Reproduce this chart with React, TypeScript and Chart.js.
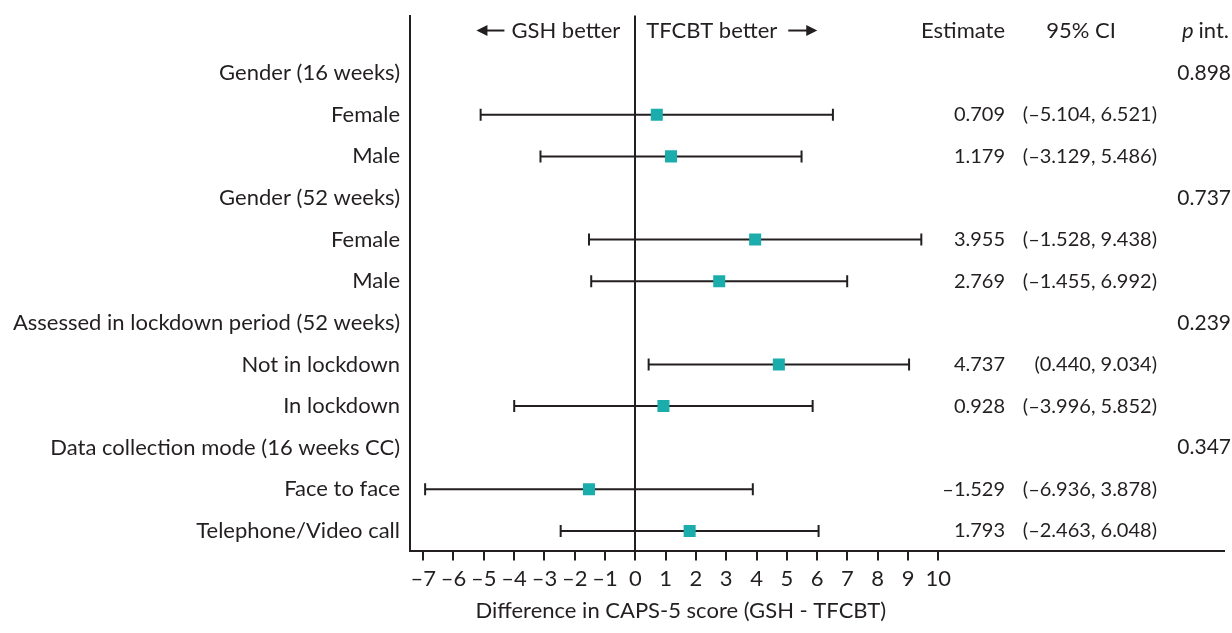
import React, { useEffect, useRef } from 'react';
import { Chart, registerables } from 'chart.js';

Chart.register(...registerables);

const rowLabels = [
  'Gender (16 weeks)',
  'Female',
  'Male',
  'Gender (52 weeks)',
  'Female',
  'Male',
  'Assessed in lockdown period (52 weeks)',
  'Not in lockdown',
  'In lockdown',
  'Data collection mode (16 weeks CC)',
  'Face to face',
  'Telephone/Video call',
];
const estimates: (number | null)[] = [null, 0.709, 1.179, null, 3.955, 2.769, null, 4.737, 0.928, null, -1.529, 1.793];
const lowerCI: (number | null)[] = [null, -5.104, -3.129, null, -1.528, -1.455, null, 0.44, -3.996, null, -6.936, -2.463];
const upperCI: (number | null)[] = [null, 6.521, 5.486, null, 9.438, 6.992, null, 9.034, 5.852, null, 3.878, 6.048];
const pInteraction: (string | null)[] = ['0.898', null, null, '0.737', null, null, '0.239', null, null, '0.347', null, null];
const xTicks = [-7, -6, -5, -4, -3, -2, -1, 0, 1, 2, 3, 4, 5, 6, 7, 8, 9, 10];
const xTitle = 'Difference in CAPS-5 score (GSH - TFCBT)';
const leftHeader = 'GSH better';
const rightHeader = 'TFCBT better';

const INK = '#231F20';
const TEAL = '#1BADAC';
const FONT = 'Lato, "Noto Sans", sans-serif';
const FS = 22;
const FS_NUM = 20;

const fmt = (v: number) => (v < 0 ? '\u2013' + Math.abs(v).toFixed(3) : v.toFixed(3));

function drawArrow(ctx: CanvasRenderingContext2D, x1: number, x2: number, y: number) {
  const dir = Math.sign(x2 - x1);
  const head = 11;
  ctx.beginPath();
  ctx.moveTo(x1, y);
  ctx.lineTo(x2 - dir * head + dir * 1, y);
  ctx.lineWidth = 2;
  ctx.strokeStyle = INK;
  ctx.stroke();
  ctx.beginPath();
  ctx.moveTo(x2, y);
  ctx.lineTo(x2 - dir * head, y - 5.5);
  ctx.lineTo(x2 - dir * head, y + 5.5);
  ctx.closePath();
  ctx.fillStyle = INK;
  ctx.fill();
}

const textPlugin = {
  id: 'forestText',
  afterDraw(chart: any) {
    const { ctx, scales } = chart;
    const xs = scales.x;
    const ys = scales.y;
    ctx.save();
    ctx.fillStyle = INK;
    ctx.font = `${FS}px ${FONT}`;
    ctx.textBaseline = 'middle';

    // header row
    const hy = ys.getPixelForValue(-1) - 1;
    const zero = xs.getPixelForValue(0);
    ctx.textAlign = 'right';
    const lRight = zero - 15;
    ctx.fillText(leftHeader, lRight, hy);
    const lw = ctx.measureText(leftHeader).width;
    drawArrow(ctx, lRight - lw - 7, lRight - lw - 35, hy);
    ctx.fillStyle = INK;
    ctx.textAlign = 'left';
    const rLeft = zero + 11;
    ctx.fillText(rightHeader, rLeft, hy);
    const rw = ctx.measureText(rightHeader).width;
    drawArrow(ctx, rLeft + rw + 11, rLeft + rw + 40, hy);
    ctx.fillStyle = INK;

    ctx.textAlign = 'right';
    ctx.fillText('Estimate', 1005, hy);
    ctx.textAlign = 'center';
    ctx.fillText('95% CI', 1081, hy);
    ctx.textAlign = 'right';
    ctx.fillText('int.', 1229, hy);
    const iw = ctx.measureText('int.').width;
    ctx.font = `italic ${FS}px ${FONT}`;
    ctx.fillText('p', 1229 - iw - 5, hy);

    // rows
    rowLabels.forEach((_, i) => {
      const y = ys.getPixelForValue(i);
      const est = estimates[i];
      const lo = lowerCI[i];
      const hi = upperCI[i];
      if (est !== null && lo !== null && hi !== null) {
        ctx.font = `${FS_NUM}px ${FONT}`;
        ctx.textAlign = 'right';
        ctx.fillText(fmt(est), 1005, y);
        ctx.fillText(`(${fmt(lo)}, ${fmt(hi)})`, 1157, y);
      }
      const p = pInteraction[i];
      if (p) {
        ctx.font = `${FS_NUM + 1}px ${FONT}`;
        ctx.textAlign = 'right';
        ctx.fillText(p, 1231, y);
      }
    });

    // x title
    ctx.font = `${FS}px ${FONT}`;
    ctx.textAlign = 'center';
    const cx = (xs.getPixelForValue(xTicks[0]) + xs.getPixelForValue(xTicks[xTicks.length - 1])) / 2;
    ctx.fillText(xTitle, cx, chart.chartArea.bottom + 60);
    ctx.restore();
  },
};

export default function App() {
  const ref = useRef<HTMLCanvasElement>(null);
  useEffect(() => {
    if (!ref.current) return;
    const whiskers = rowLabels
      .map((_, i) => i)
      .filter((i) => estimates[i] !== null)
      .map((i) => ({
        type: 'line' as const,
        data: [
          { x: lowerCI[i] as number, y: i },
          { x: upperCI[i] as number, y: i },
        ],
        showLine: true,
        borderColor: INK,
        borderWidth: 2,
        pointStyle: 'line' as const,
        pointRotation: 90,
        pointRadius: 6,
        pointBorderWidth: 2,
        pointBorderColor: INK,
        pointBackgroundColor: INK,
        order: 2,
      }));
    const squares = {
      type: 'scatter' as const,
      data: rowLabels
        .map((_, i) => i)
        .filter((i) => estimates[i] !== null)
        .map((i) => ({ x: estimates[i] as number, y: i })),
      pointStyle: 'rect' as const,
      pointRadius: 8.5,
      backgroundColor: TEAL,
      pointBackgroundColor: TEAL,
      borderWidth: 0,
      pointBorderWidth: 0,
      order: 1,
    };
    const chart = new Chart(ref.current, {
      type: 'scatter',
      data: { datasets: [...whiskers, squares] as any },
      options: {
        responsive: false,
        animation: false,
        events: [],
        layout: { padding: { top: 15.5, right: 2, left: 0, bottom: 0 } },
        plugins: { legend: { display: false }, tooltip: { enabled: false } },
        scales: {
          x: {
            type: 'linear',
            min: -7.435,
            max: 19.41,
            afterBuildTicks: (s: any) => {
              s.ticks = xTicks.map((v) => ({ value: v }));
            },
            afterFit: (s: any) => {
              s.height = 82.5;
              s.paddingLeft = 0;
              s.paddingRight = 0;
            },
            grid: {
              display: true,
              drawOnChartArea: true,
              drawTicks: true,
              tickLength: 10,
              color: (c: any) => (c.tick && c.tick.value === 0 ? INK : 'rgba(0,0,0,0)'),
              tickColor: INK,
              lineWidth: 2,
              tickWidth: 2,
            },
            border: { display: true, color: INK, width: 2 },
            ticks: {
              autoSkip: false,
              maxRotation: 0,
              padding: 5,
              color: INK,
              font: { family: FONT, size: FS },
              callback: (v: any) => (Number(v) < 0 ? '\u2013' + Math.abs(Number(v)) : String(v)),
            },
          },
          y: {
            type: 'linear',
            reverse: true,
            min: -1.385,
            max: 11.47,
            afterBuildTicks: (s: any) => {
              s.ticks = rowLabels.map((_, i) => ({ value: i }));
            },
            afterFit: (s: any) => {
              s.width = 410;
              s.paddingTop = 0;
              s.paddingBottom = 0;
            },
            grid: { display: false, drawTicks: false },
            border: { display: true, color: INK, width: 2 },
            ticks: {
              autoSkip: false,
              padding: 10,
              color: INK,
              font: { family: FONT, size: FS },
              callback: (v: any) => rowLabels[Number(v)] ?? '',
            },
          },
        },
      },
      plugins: [textPlugin],
    });
    return () => chart.destroy();
  }, []);
  return (
    <div style={{ position: 'absolute', left: 0, top: 0, width: 1232, height: 633, background: '#fff' }}>
      <canvas ref={ref} width={1232} height={633} />
    </div>
  );
}
